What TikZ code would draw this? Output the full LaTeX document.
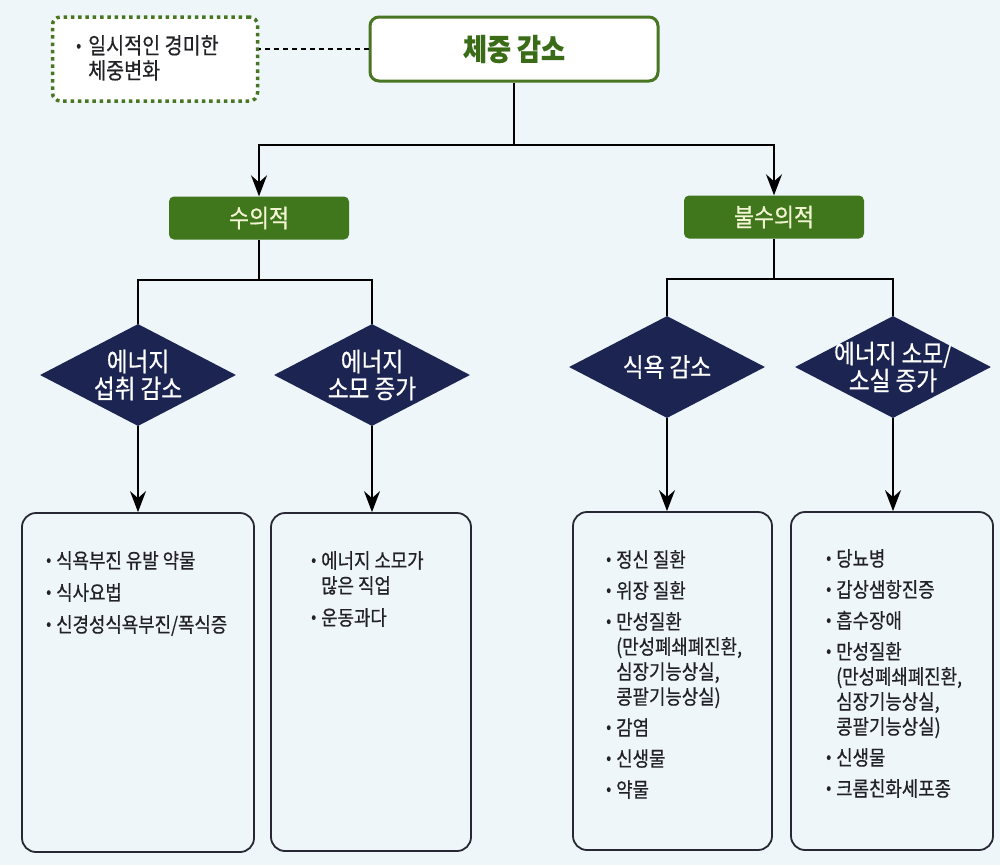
\documentclass[tikz,border=0pt]{standalone}
\usepackage{fontspec}
\setmainfont{Noto Sans CJK KR}[FakeStretch=0.87,FakeBold=0.5]
\usetikzlibrary{shapes.geometric,arrows.meta}
\definecolor{bgc}{RGB}{238,246,250}
\definecolor{grnline}{RGB}{72,118,34}
\definecolor{grntext}{RGB}{58,108,24}
\definecolor{grnfill}{RGB}{64,118,28}
\definecolor{labtext}{RGB}{242,245,210}
\definecolor{navy}{RGB}{28,36,82}
\definecolor{boxline}{RGB}{40,40,52}
\definecolor{txt}{RGB}{34,34,38}
\newcommand\bul[1]{\makebox[#1][l]{\raisebox{2.5pt}{\fontsize{17}{17}\selectfont •}}}
\begin{document}
\begin{tikzpicture}[x=1pt,y=-1pt,
  topbox/.style={draw=grnline,line width=3pt,fill=white,rounded corners=9pt,minimum width=288pt,minimum height=64pt,text=grntext,font=\fontsize{30}{32}\selectfont\bfseries},
  dashbox/.style={draw=grnline,line width=3.5pt,dash pattern=on 3.5pt off 3.8pt,fill=white,rounded corners=8pt,minimum width=205pt,minimum height=84pt},
  dashtext/.style={anchor=north west,inner sep=0pt,align=left,text=txt,font=\fontsize{22.5}{25}\selectfont},
  lab/.style={fill=grnfill,rounded corners=5pt,minimum width=180pt,minimum height=43pt,text=labtext,font=\fontsize{25}{27}\selectfont},
  dia/.style={diamond,fill=navy,minimum width=196pt,minimum height=102pt,inner sep=0pt},
  diatext/.style={text=white,align=center,inner sep=0pt,font=\fontsize{26}{27}\selectfont},
  lbox/.style={draw=boxline,line width=1.8pt,rounded corners=14pt,fill=bgc},
  ltext/.style={anchor=north west,inner sep=0pt,align=left,text=txt,font=\fontsize{20.5}{25}\selectfont},
  conn/.style={draw=black,line width=1.6pt},
  arr/.style={conn,-{Stealth[length=21pt,width=16pt,inset=7pt]}},
  dline/.style={draw=black,line width=1.3pt,dash pattern=on 5pt off 4pt}
]
\fill[bgc] (0,0) rectangle (1000,865);
\useasboundingbox (0,0) rectangle (1000,865);

% top
\node[topbox] (top) at (514,49) {체중 감소};
\node[dashbox] (tmp) at (155,59) {};
\node[dashtext] (tmpt) at (76,35) {\bul{12pt}일시적인 경미한\\\hspace*{12pt}체중변화};
\draw[dline] (top.west) -- (top.west -| tmp.east);

% level 2
\node[lab] (vol) at (259,218) {수의적};
\node[lab] (invol) at (774,217) {불수의적};
\coordinate (j0) at (514,145);
\draw[conn] (top.south) -- (j0);
\draw[arr] (j0) -| (vol.north);
\draw[arr] (j0) -| (invol.north);

% diamonds
\node[dia] (d1) at (138,375) {};
\node[diatext] (d1t) at (d1) {에너지\\섭취 감소};
\node[dia] (d2) at (372,375) {};
\node[diatext] (d2t) at (d2) {에너지\\소모 증가};
\node[dia] (d3) at (667,367) {};
\node[diatext] (d3t) at (d3) {식욕 감소};
\node[dia] (d4) at (893,367) {};
\node[diatext] (d4t) at (d4) {에너지 소모/\\소실 증가};

\coordinate (j1) at (259,280);
\coordinate (j2) at (774,279);
\draw[conn] (vol.south) -- (j1);
\draw[conn] (j1) -| (d1.north);
\draw[conn] (j1) -| (d2.north);
\draw[conn] (invol.south) -- (j2);
\draw[conn] (j2) -| (d3.north);
\draw[conn] (j2) -| (d4.north);

% boxes
\node[lbox,minimum width=232pt,minimum height=339pt] (b1) at (138,682.5) {};
\node[lbox,minimum width=200pt,minimum height=338pt] (b2) at (371,682) {};
\node[lbox,minimum width=199pt,minimum height=338pt] (b3) at (672.5,681) {};
\node[lbox,minimum width=202pt,minimum height=338pt] (b4) at (892,681) {};

\draw[arr] (d1.south) -- (d1.south |- b1.north);
\draw[arr] (d2.south) -- (d2.south |- b2.north);
\draw[arr] (d3.south) -- (d3.south |- b3.north);
\draw[arr] (d4.south) -- (d4.south |- b4.north);

\node[ltext] (t1) at (46,551) {\bul{10pt}식욕부진 유발 약물\\[7pt]\bul{10pt}식사요법\\[7pt]\bul{10pt}신경성식욕부진/폭식증};
\node[ltext] (t2) at (311,551) {\bul{10pt}에너지 소모가\\\hspace*{10pt}많은 직업\\[7pt]\bul{10pt}운동과다};
\node[ltext] (t3) at (606,550) {\bul{10pt}정신 질환\\[6pt]\bul{10pt}위장 질환\\[6pt]\bul{10pt}만성질환\\\hspace*{10pt}(만성폐쇄폐진환,\\\hspace*{10pt}심장기능상실,\\\hspace*{10pt}콩팥기능상실)\\[6pt]\bul{10pt}감염\\[6pt]\bul{10pt}신생물\\[6pt]\bul{10pt}약물};
\node[ltext] (t4) at (826,549) {\bul{10pt}당뇨병\\[6pt]\bul{10pt}갑상샘항진증\\[6pt]\bul{10pt}흡수장애\\[6pt]\bul{10pt}만성질환\\\hspace*{10pt}(만성폐쇄폐진환,\\\hspace*{10pt}심장기능상실,\\\hspace*{10pt}콩팥기능상실)\\[6pt]\bul{10pt}신생물\\[6pt]\bul{10pt}크롬친화세포종};
\end{tikzpicture}
\end{document}
